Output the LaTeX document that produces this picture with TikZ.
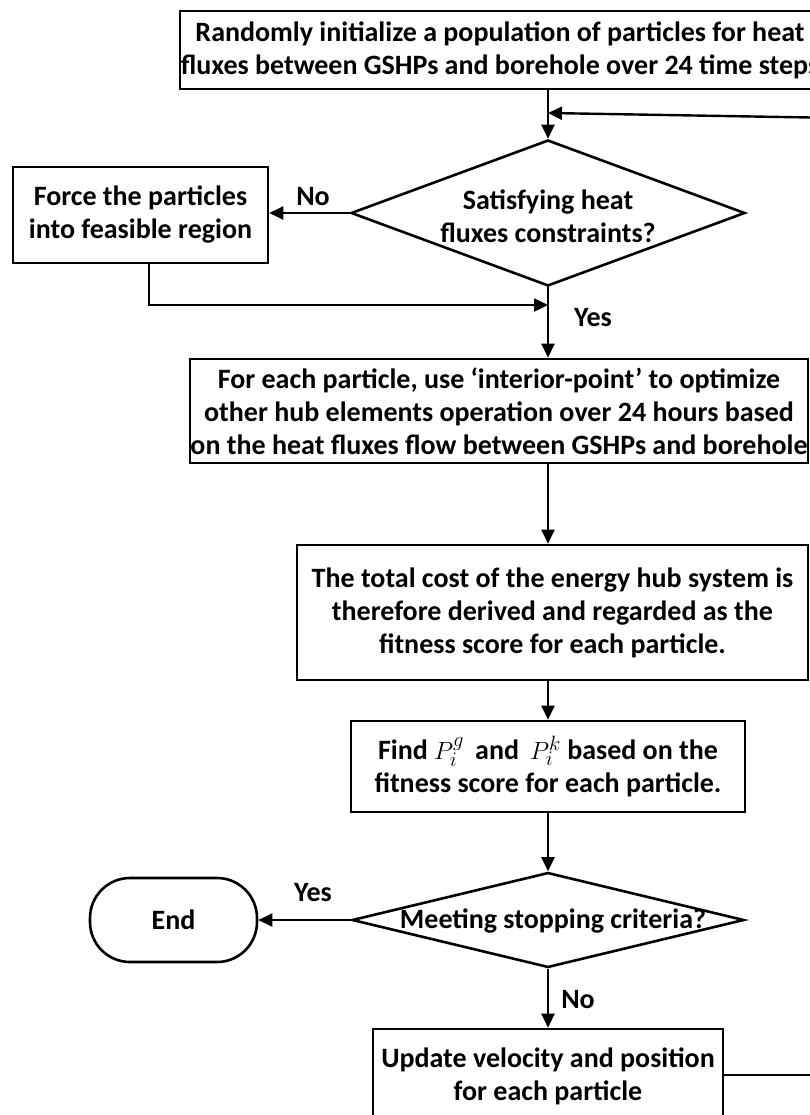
\documentclass[tikz,border=0pt]{standalone}
\usepackage{fontspec}
\setmainfont{Carlito}
\usetikzlibrary{arrows.meta,shapes.geometric,calc}
\begin{document}
\begin{tikzpicture}[x=1pt,y=-1pt,
  every node/.style={font=\bfseries\fontsize{28}{33}\selectfont, align=center},
  box/.style={draw, line width=2.6pt, inner sep=0pt},
  dia/.style={draw, diamond, line width=2.6pt, inner sep=0pt},
  term/.style={draw, line width=2.6pt, rounded corners=40pt, inner sep=0pt},
  arr/.style={line width=2.4pt, -{Triangle[length=14pt,width=13pt]}},
  thinln/.style={line width=1.4pt},
  lab/.style={inner sep=0pt}]
\useasboundingbox (0,0) rectangle (810,1115);
\clip (0,0) rectangle (810,1115);
\fill[white] (0,0) rectangle (810,1115);
\coordinate (axis) at (548,0);

\node[box, minimum width=640pt, minimum height=78pt] (init) at (500,50)
  {Randomly initialize a population of particles for heat\\fluxes between GSHPs and borehole over 24 time steps};
\node[dia, minimum width=394pt, minimum height=146pt] (d1) at (548,213) {};
\node[lab] (d1t) at (548,216) {Satisfying heat\\fluxes constraints?};
\node[box, minimum width=255pt, minimum height=96pt] (force) at (140.5,215)
  {Force the particles\\into feasible region};
\node[box, minimum width=618pt, minimum height=104pt] (opt) at (499,411)
  {For each particle, use ‘interior-point’ to optimize\\other hub elements operation over 24 hours based\\on the heat fluxes flow between GSHPs and borehole};
\node[box, minimum width=511pt, minimum height=135pt] (cost) at (552.5,612.5)
  {The total cost of the energy hub system is\\therefore derived and regarded as the\\fitness score for each particle.};
\node[box, minimum width=394pt, minimum height=91pt] (find) at (548,766.5)
  {Find $P_i^g$\, and \,$P_i^k$ based on the\\fitness score for each particle.};
\node[dia, minimum width=392pt, minimum height=95pt] (d2) at (548,920) {};
\node[lab] (d2t) at (553,921) {Meeting stopping criteria?};
\node[term, minimum width=167pt, minimum height=84pt] (end) at (173.5,920) {End};
\node[box, minimum width=350pt, minimum height=94pt] (upd) at (548,1076)
  {Update velocity and position\\for each particle};

\node[lab] (no1) at (313,197) {No};
\node[lab] (yes1) at (593,318) {Yes};
\node[lab] (yes2) at (313,893) {Yes};
\node[lab] (no2) at (578,1000) {No};

\coordinate (fj) at (149,305);
\coordinate (fbB) at (840,1075);
\coordinate (fbT) at (840,118);
\coordinate (fbJ) at (548,113);

\draw[arr] (init.south -| axis) -- (d1.north);
\draw[arr] (d1.west) -- (force.east |- d1.west);
\draw[arr] (force.south -| fj) -- (fj) -- (fj -| axis);
\draw[arr] (d1.south) -- (opt.north -| axis);
\draw[arr] (opt.south -| axis) -- (cost.north -| axis);
\draw[arr] (cost.south -| axis) -- (find.north);
\draw[arr] (find.south) -- (d2.north);
\draw[arr] (d2.west) -- (end.east);
\draw[arr] (d2.south) -- (upd.north);
\draw[thinln] (upd.east |- fbB) -- (fbB) -- (fbT);
\draw[arr] (fbT) -- (fbJ);
\end{tikzpicture}
\end{document}
